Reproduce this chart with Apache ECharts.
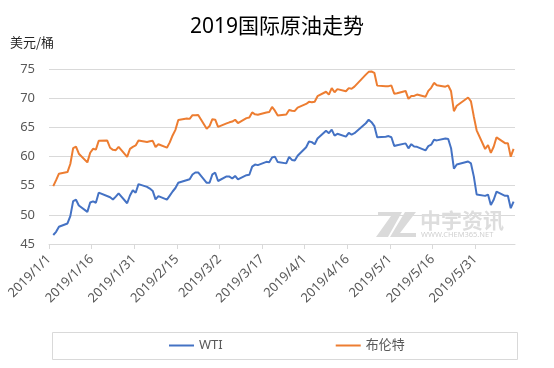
<!DOCTYPE html>
<html>
<head>
<meta charset="utf-8">
<script src="https://cdn.jsdelivr.net/npm/echarts@6/dist/echarts.min.js"></script>
<style>
  html, body { margin: 0; padding: 0; background: #fff; }
  #chart { width: 554px; height: 368px; }
</style>
</head>
<body>
<div id="chart"></div>
<script>
// ---- data ----
const titleText = '2019国际原油走势';
const unitText = '美元/桶';
const seriesNames = ['WTI', '布伦特'];

const dates = [
  '2019/1/2','2019/1/3','2019/1/4','2019/1/7','2019/1/8','2019/1/9','2019/1/10','2019/1/11',
  '2019/1/14','2019/1/15','2019/1/16','2019/1/17','2019/1/18','2019/1/21','2019/1/22','2019/1/23',
  '2019/1/24','2019/1/25','2019/1/28','2019/1/29','2019/1/30','2019/1/31',
  '2019/2/1','2019/2/4','2019/2/5','2019/2/6','2019/2/7','2019/2/8','2019/2/11','2019/2/12',
  '2019/2/13','2019/2/14','2019/2/15','2019/2/18','2019/2/19','2019/2/20','2019/2/21','2019/2/22',
  '2019/2/25','2019/2/26','2019/2/27','2019/2/28',
  '2019/3/1','2019/3/4','2019/3/5','2019/3/6','2019/3/7','2019/3/8','2019/3/11','2019/3/12',
  '2019/3/13','2019/3/14','2019/3/15','2019/3/18','2019/3/19','2019/3/20','2019/3/21','2019/3/22',
  '2019/3/25','2019/3/26','2019/3/27','2019/3/28','2019/3/29',
  '2019/4/1','2019/4/2','2019/4/3','2019/4/4','2019/4/5','2019/4/8','2019/4/9','2019/4/10',
  '2019/4/11','2019/4/12','2019/4/15','2019/4/16','2019/4/17','2019/4/18','2019/4/22','2019/4/23',
  '2019/4/24','2019/4/25','2019/4/26','2019/4/29','2019/4/30',
  '2019/5/1','2019/5/2','2019/5/3','2019/5/6','2019/5/7','2019/5/8','2019/5/9','2019/5/10',
  '2019/5/13','2019/5/14','2019/5/15','2019/5/16','2019/5/17','2019/5/20','2019/5/21','2019/5/22',
  '2019/5/23','2019/5/24','2019/5/28','2019/5/29','2019/5/30','2019/5/31',
  '2019/6/3','2019/6/4','2019/6/5','2019/6/6','2019/6/7','2019/6/10','2019/6/11','2019/6/12','2019/6/13'
];

const wti = [
  46.54, 47.09, 47.96, 48.52, 49.78, 52.36, 52.59, 51.59,
  50.51, 52.11, 52.31, 52.07, 53.80, null, 53.01, 52.62,
  53.13, 53.69, 51.99, 53.31, 54.23, 53.79,
  55.26, 54.8, 54.5, 54.1, 52.64, 53.2, 52.6, 53.3,
  54.0, 54.6, 55.5, null, 56.09, 56.92, 57.26, 57.26,
  55.48, 55.50, 56.94, 57.22,
  55.80, 56.59, 56.56, 56.22, 56.66, 56.07, 56.79, 56.87,
  58.26, 58.61, 58.52, 59.09, 59.03, 59.83, 59.98, 59.04,
  58.82, 59.94, 59.41, 59.30, 60.14,
  61.59, 62.58, 62.46, 62.10, 63.08, 64.40, 64.0, 64.61,
  63.58, 63.89, 63.40, 64.05, 63.76, 64.00, 65.70, 66.30,
  65.89, 65.21, 63.30, 63.4, 63.5,
  63.3, 61.81, 61.94, 62.25, 61.40, 62.12, 61.70, 61.66,
  61.04, 61.78, 62.02, 62.87, 62.76, 63.10, 62.99, 61.42,
  57.91, 58.63, 59.14, 58.81, 56.59, 53.50,
  53.25, 53.48, 51.68, 52.59, 53.99, 53.26, 53.27, 51.14, 52.28
];

const brent = [
  54.91, 55.95, 57.06, 57.33, 58.72, 61.44, 61.68, 60.48,
  58.99, 60.64, 61.32, 61.18, 62.70, 62.74, 61.50, 61.14,
  61.09, 61.64, 59.93, 61.32, 61.65, 61.89,
  62.75, 62.5, 62.6, 62.69, 61.63, 62.10, 61.51, 62.42,
  63.61, 64.57, 66.25, 66.50, 66.45, 67.08, 67.07, 67.12,
  64.76, 65.21, 66.39, 66.31,
  65.07, 65.67, 65.86, 65.99, 66.30, 65.74, 66.58, 66.67,
  67.55, 67.23, 67.16, 67.54, 67.61, 68.50, 67.86, 67.03,
  67.21, 67.97, 67.83, 67.82, 68.39,
  69.01, 69.37, 69.31, 69.40, 70.34, 71.10, 70.61, 71.73,
  71.02, 71.55, 71.18, 71.72, 71.62, 71.97, 74.04, 74.51,
  74.57, 74.35, 72.15, 72.04, 72.06,
  72.18, 70.75, 70.85, 71.24, 69.88, 70.37, 70.39, 70.62,
  70.23, 71.24, 71.77, 72.62, 72.21, 71.97, 72.18, 71.18,
  67.76, 68.69, 70.11, 69.45, 66.87, 64.49,
  61.28, 61.97, 60.63, 61.67, 63.29, 62.29, 62.29, 59.97, 61.31
];

const tickLabels = ['2019/1/1','2019/1/16','2019/1/31','2019/2/15','2019/3/2','2019/3/17',
                    '2019/4/1','2019/4/16','2019/5/1','2019/5/16','2019/5/31'];
const axisStart = '2019/1/1';
const axisEnd = '2019/6/14';
const yMin = 45, yMax = 75, yStep = 5;

// ---- helpers: dates -> day numbers counted from axisStart ----
const DAY = 24 * 3600 * 1000;
function parseDate(s) {
  const p = s.split('/').map(Number);
  return Date.UTC(p[0], p[1] - 1, p[2]);
}
const t0 = parseDate(axisStart);
function dayIndex(s) { return Math.round((parseDate(s) - t0) / DAY); }
const tickValues = tickLabels.map(dayIndex);
// each point sits in the middle of its day slot (date axis, "between tick marks")
function toSeries(vals) {
  return dates.map((d, i) => [dayIndex(d) + 0.5, vals[i]]);
}

const latin = "'Noto Sans', 'Noto Sans CJK SC', sans-serif";
const gridColor = '#D9D9D9';
const textColor = '#595959';

const chart = echarts.init(document.getElementById('chart'), null, { renderer: 'canvas' });
chart.setOption({
  animation: false,
  backgroundColor: '#fff',
  textStyle: { fontFamily: latin },
  title: {
    text: titleText,
    left: 'center',
    top: 17,
    padding: 0,
    textStyle: { fontSize: 21, fontWeight: 'normal', color: '#000', fontFamily: latin }
  },
  grid: { left: 49, right: 39, top: 69, bottom: 124, outerBoundsMode: 'none', containLabel: false },
  legend: {
    data: seriesNames,
    left: 169,
    top: 339,
    padding: 0,
    itemGap: 113,
    itemWidth: 25,
    itemHeight: 2,
    icon: 'rect',
    textStyle: { fontSize: 13, color: textColor, fontFamily: latin }
  },
  xAxis: {
    type: 'value',
    min: 0,
    max: dayIndex(axisEnd),
    interval: 15,
    axisLine: { show: true, lineStyle: { color: gridColor, width: 1 } },
    axisTick: { show: true, length: 5, lineStyle: { color: gridColor }, customValues: tickValues },
    splitLine: { show: false },
    axisLabel: {
      customValues: tickValues,
      rotate: 45,
      margin: 13,
      fontSize: 13,
      color: textColor,
      fontFamily: latin,
      hideOverlap: false,
      formatter: function (v) {
        const i = tickValues.indexOf(Math.round(+v));
        return i >= 0 ? tickLabels[i] : '';
      }
    }
  },
  yAxis: {
    type: 'value',
    min: yMin,
    max: yMax,
    interval: yStep,
    axisLine: { show: false },
    axisTick: { show: false },
    splitLine: { show: true, lineStyle: { color: gridColor, width: 1 } },
    axisLabel: { fontSize: 13, color: textColor, margin: 14, fontFamily: latin }
  },
  graphic: [
    {
      type: 'text', left: 10, top: 36, z: 10,
      style: { text: unitText, fontSize: 13, fill: '#262626', fontFamily: "'Noto Sans CJK SC', sans-serif" }
    },
    {
      type: 'rect', z: 0, silent: true,
      shape: { x: 52.5, y: 332.5, width: 465, height: 27 },
      style: { fill: 'none', stroke: gridColor, lineWidth: 1 }
    },
    // watermark
    {
      type: 'polygon', z: 1, silent: true,
      shape: { points: [[378,212],[402,212],[388,237],[376,237],[391,216],[378,216]] },
      style: { fill: '#DADADA' }
    },
    {
      type: 'polygon', z: 1, silent: true,
      shape: { points: [[405,212],[416,212],[400,233],[416,233],[416,237],[390,237]] },
      style: { fill: '#DADADA' }
    },
    {
      type: 'text', left: 420, top: 210, z: 1, silent: true,
      style: { text: '中宇资讯', fontSize: 21, fontWeight: 'bold', fill: '#DDDDDD', fontFamily: "'Noto Sans CJK SC', sans-serif" }
    },
    {
      type: 'text', left: 421, top: 231, z: 1, silent: true,
      style: { text: 'WWW.CHEM365.NET', fontSize: 7.5, fill: '#D0D0D0', fontFamily: latin }
    }
  ],
  series: [
    {
      name: seriesNames[0], type: 'line', data: toSeries(wti), connectNulls: true,
      showSymbol: false, symbol: 'none', color: '#4472C4',
      lineStyle: { width: 2, color: '#4472C4' }, z: 5
    },
    {
      name: seriesNames[1], type: 'line', data: toSeries(brent), connectNulls: true,
      showSymbol: false, symbol: 'none', color: '#ED7D31',
      lineStyle: { width: 2, color: '#ED7D31' }, z: 5
    }
  ]
});
</script>
</body>
</html>
